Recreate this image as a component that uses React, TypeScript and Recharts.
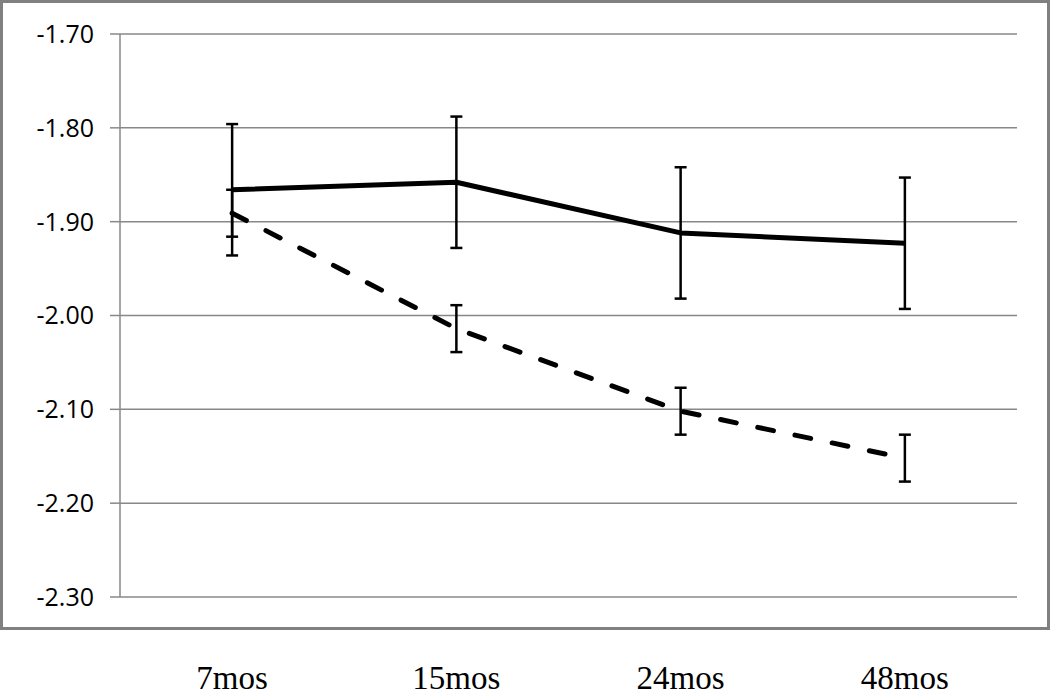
import React from 'react';
import { ComposedChart, Line, XAxis, YAxis, CartesianGrid, ErrorBar } from 'recharts';

const categories = ['7mos', '15mos', '24mos', '48mos'];
const solidValues = [-1.866, -1.858, -1.912, -1.923];
const solidErrors = [0.07, 0.07, 0.07, 0.07];
const dashedValues = [-1.891, -2.014, -2.102, -2.152];
const dashedErrors = [0.025, 0.025, 0.025, 0.025];
const yTicks = [-2.3, -2.2, -2.1, -2.0, -1.9, -1.8, -1.7];

const data = categories.map((c, i) => ({
  name: c,
  solid: solidValues[i],
  solidErr: solidErrors[i],
  dashed: dashedValues[i],
  dashedErr: dashedErrors[i],
}));

const XTick = (props: any) => {
  const { x, y, payload } = props;
  return (
    <text x={x} y={y + 92} textAnchor="middle" fontFamily="'Liberation Serif', 'Times New Roman', serif" fontSize={33} fill="#000">
      {payload.value}
    </text>
  );
};

export default function App() {
  return (
    <div style={{ position: 'absolute', left: 0, top: 0, width: 1050, height: 693, background: '#fff' }}>
      <div
        style={{
          position: 'absolute',
          left: 0,
          top: 0,
          width: 1050,
          height: 630,
          border: '3px solid #808080',
          boxSizing: 'border-box',
        }}
      />
      <div style={{ position: 'absolute', left: 0, top: 0 }}>
        <ComposedChart width={1050} height={693} data={data} margin={{ top: 34, right: 33, left: 0, bottom: 0 }}>
          <CartesianGrid vertical={false} stroke="#888" strokeWidth={1.5} />
          <XAxis
            dataKey="name"
            scale="band"
            axisLine={false}
            tickLine={false}
            tickSize={0}
            tickMargin={0}
            height={96}
            tick={<XTick />}
            interval={0}
          />
          <YAxis
            domain={[-2.3, -1.7]}
            ticks={yTicks}
            interval={0}
            width={120}
            tickSize={10}
            tickMargin={16}
            axisLine={{ stroke: '#888', strokeWidth: 1.5 }}
            tickLine={{ stroke: '#888', strokeWidth: 1.5 }}
            tickFormatter={(v: number) => v.toFixed(2)}
            tick={{ fill: '#000', fontSize: 25, fontFamily: "'Open Sans', sans-serif" }}
          />
          <Line
            type="linear"
            dataKey="solid"
            stroke="#000"
            strokeWidth={5}
            dot={false}
            activeDot={false}
            isAnimationActive={false}
            strokeLinejoin="round"
          >
            <ErrorBar dataKey="solidErr" direction="y" width={6} stroke="#000" strokeWidth={2.5} />
          </Line>
          <Line
            type="linear"
            dataKey="dashed"
            stroke="#000"
            strokeWidth={5}
            strokeDasharray="16 22"
            strokeLinecap="round"
            dot={false}
            activeDot={false}
            isAnimationActive={false}
          >
            <ErrorBar dataKey="dashedErr" direction="y" width={6} stroke="#000" strokeWidth={2.5} />
          </Line>
        </ComposedChart>
      </div>
    </div>
  );
}
